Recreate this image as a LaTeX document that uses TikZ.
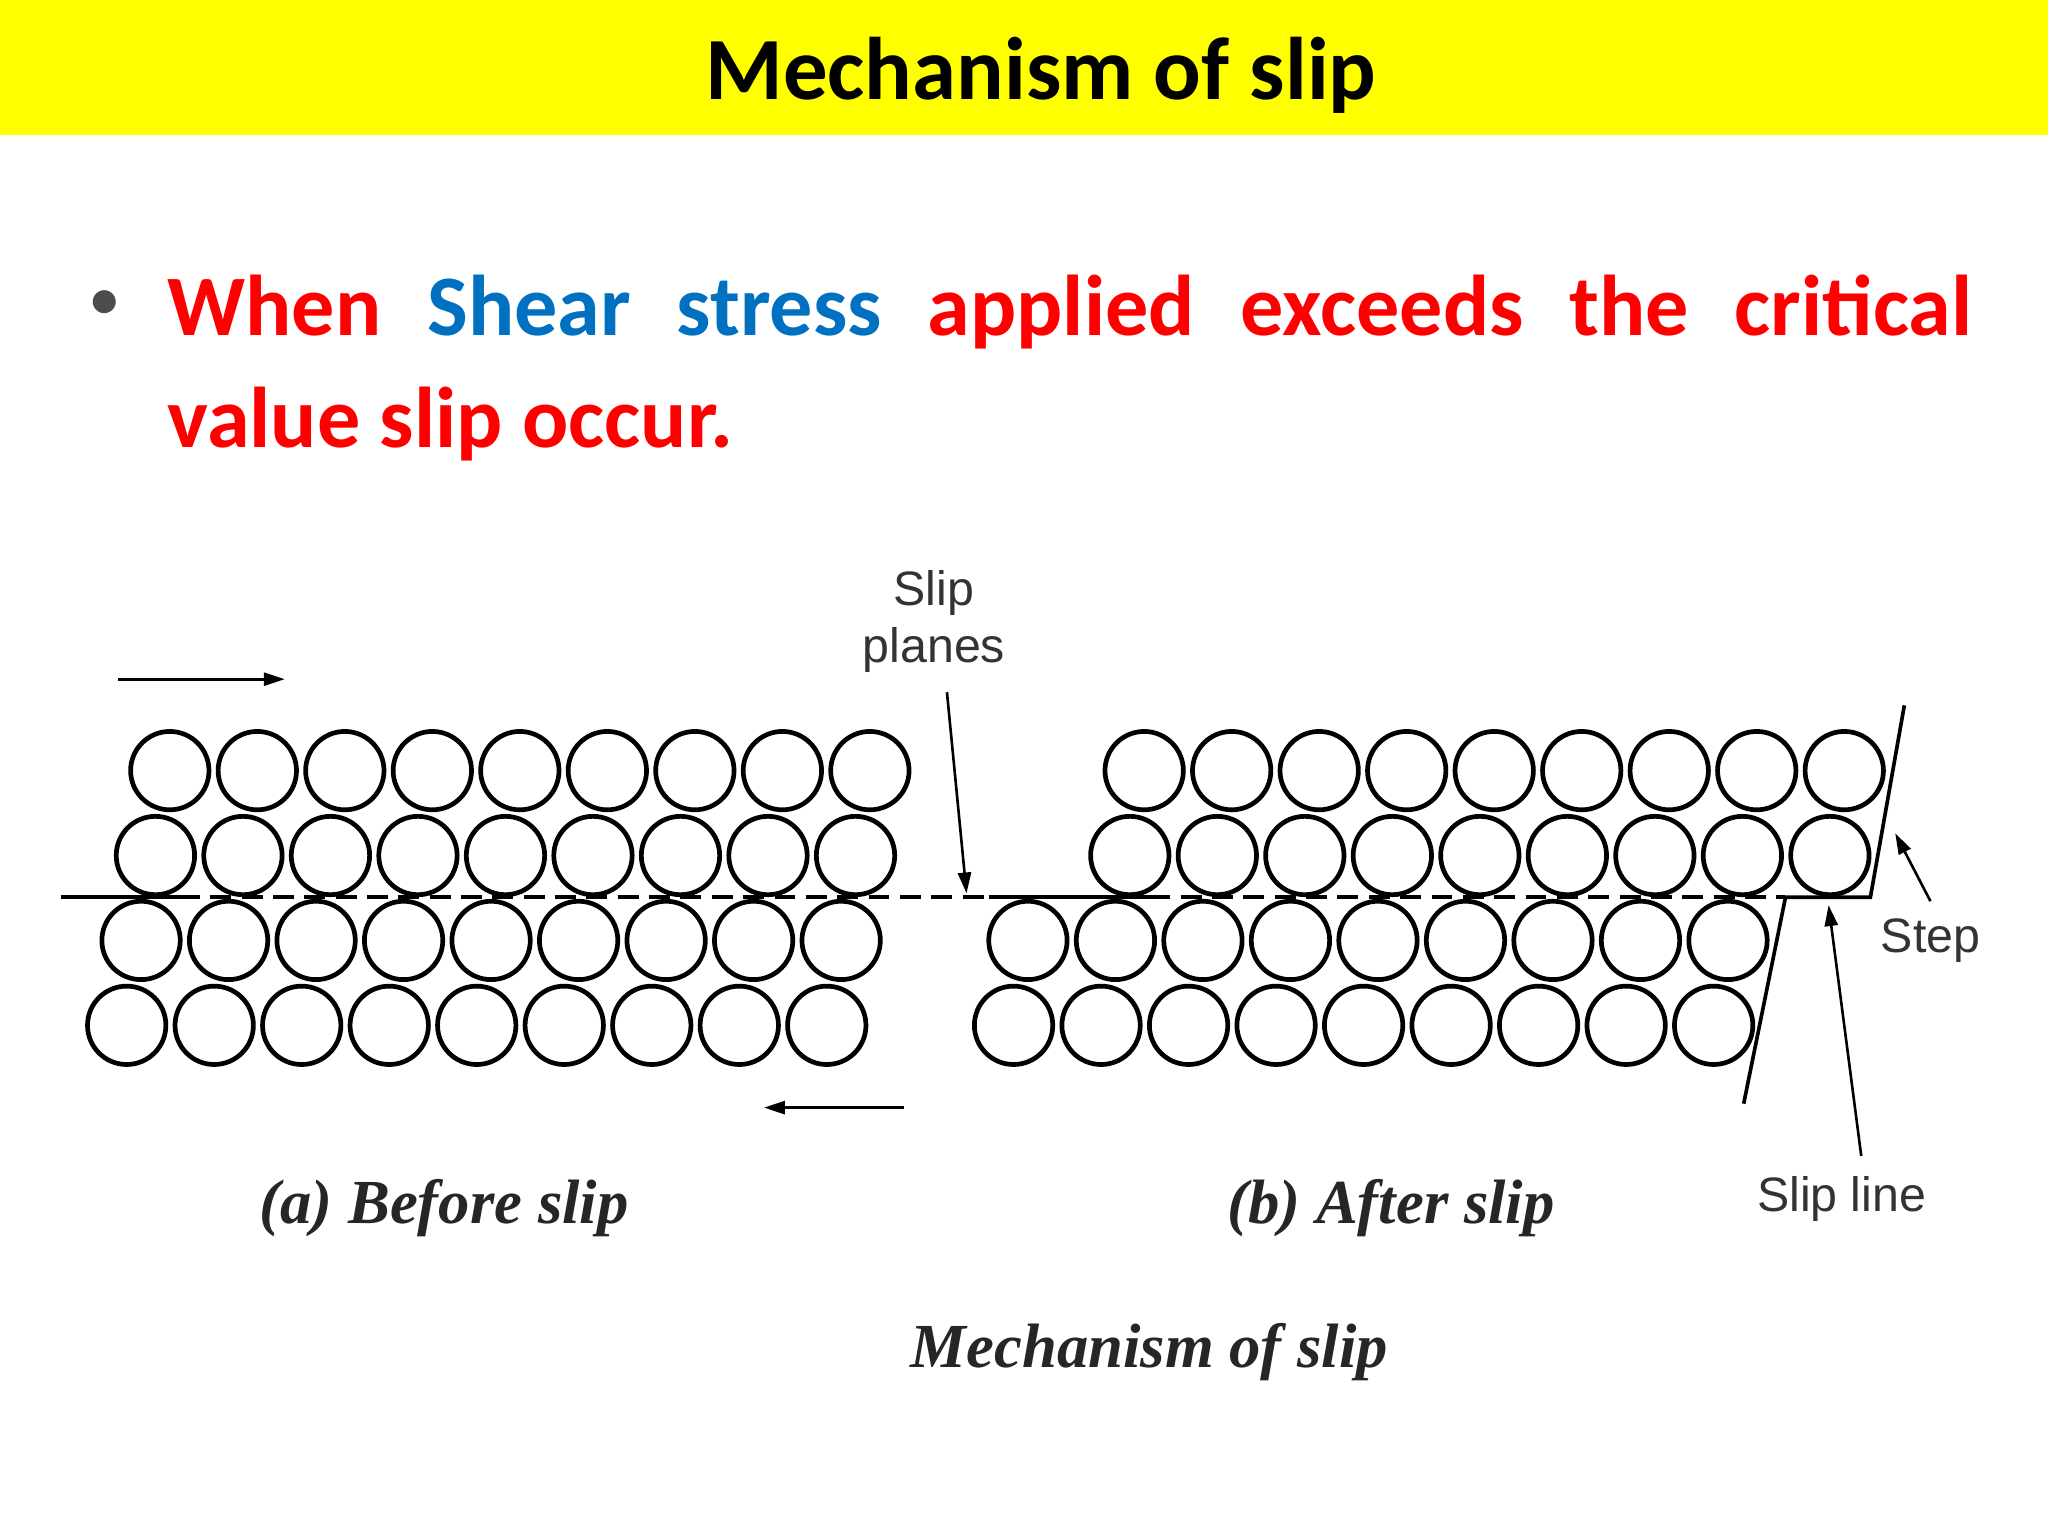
\documentclass[tikz,border=0pt]{standalone}
\usepackage{fontspec}
\setmainfont{Carlito}
\newfontfamily\labfont{Liberation Sans}
\newfontfamily\capfont{Liberation Serif}
\definecolor{ttlyellow}{RGB}{255,255,0}
\definecolor{bred}{RGB}{255,0,0}
\definecolor{bblue}{RGB}{0,112,192}
\usetikzlibrary{arrows.meta}
\begin{document}
\begin{tikzpicture}[x=1pt,y=-1pt,
  atom/.style={draw=black,line width=3.6pt},
  plane/.style={line width=2.8pt},
  arr/.style={line width=2pt,-{Triangle[length=16pt,width=10pt]}},
  lbl/.style={font=\labfont\fontsize{37}{44}\selectfont,text=black!80},
  capt/.style={font=\capfont\bfseries\itshape\fontsize{48}{52}\selectfont,text=black!85}]
\useasboundingbox (0,0) rectangle (1568,1176);
\fill[ttlyellow] (0,0) rectangle (1568,103);
\node[font=\bfseries\fontsize{68}{74}\selectfont] (title) at (797,58) {Mechanism of slip};
\node[font=\fontsize{50}{60}\selectfont,text=black!70] (bul) at (80,234) {\textbullet};
\node[anchor=north west,inner sep=0pt,text width=1382pt,align=justify,
  font=\bfseries\fontsize{66}{86}\selectfont,text=bred] (txt) at (128,210)
  {When \textcolor{bblue}{Shear stress} applied exceeds the critical value slip occur.};
% (a)
\foreach \r/\y/\x in {1/590/130,2/655/119,3/720/108,4/785/97}{
  \foreach \i in {0,...,8}{\draw[atom] (\x+67*\i,\y) circle (30);}}
% (b)
\foreach \r/\y/\x in {1/590/876,2/655/865,3/720/787,4/785/776}{
  \foreach \i in {0,...,8}{\draw[atom] (\x+67*\i,\y) circle (30);}}
% slip planes
\coordinate (pa1) at (47,687); \coordinate (pa2) at (137,687);
\coordinate (pa4) at (760,687);
\draw[plane] (pa1) -- (pa2);
\draw[plane,dash pattern=on 16pt off 8pt] (pa2) -- (pa4);
\coordinate (pb1) at (757,687); \coordinate (pb2) at (880,687);
\coordinate (pb3) at (1367,687); \coordinate (pb4) at (1432,687);
\draw[plane] (pb1) -- (pb2);
\draw[plane,dash pattern=on 16pt off 8pt] (pb2) -- (pb3);
\coordinate (sl0) at (1335,845); \coordinate (st1) at (1458,540);
\draw[plane,line join=miter] (sl0) -- (pb3) -- (pb4) -- (st1);
% shear arrows
\coordinate (t1) at (90,520); \coordinate (t2) at (218,520);
\draw[arr] (t1) -- (t2);
\coordinate (b1) at (692,848); \coordinate (b2) at (585,848);
\draw[arr] (b1) -- (b2);
% labels
\node[lbl,align=center] (slp) at (715,476) {Slip\\planes};
\coordinate (slpt) at (740,684);
\draw[arr] (725,530) -- (slpt);
\node[lbl] (step) at (1478,720) {Step};
\coordinate (stpt) at (1451,638);
\draw[arr] (1478,690) -- (stpt);
\node[lbl] (sline) at (1410,918) {Slip line};
\coordinate (slt) at (1400,693);
\draw[arr] (1425,885) -- (slt);
\node[capt] (ca) at (340,925) {(a) Before slip};
\node[capt] (cb) at (1065,925) {(b) After slip};
\node[capt] (cm) at (880,1035) {Mechanism of slip};
\end{tikzpicture}
\end{document}
